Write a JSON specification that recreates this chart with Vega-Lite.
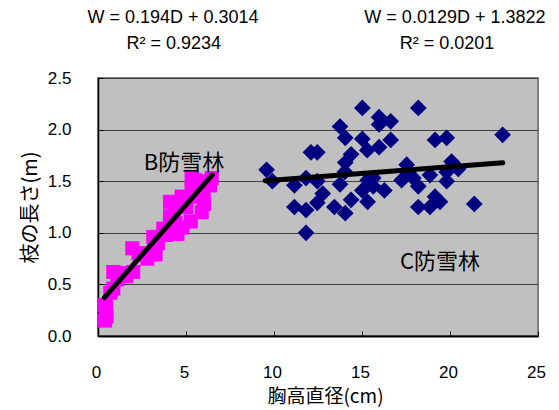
{
  "$schema": "https://vega.github.io/schema/vega-lite/v6.json",
  "width": 440,
  "height": 258,
  "autosize": {"type": "none"},
  "padding": {"left": 98, "top": 78, "right": 21, "bottom": 74},
  "background": "#ffffff",
  "config": {
    "view": {"fill": "#c0c0c0", "stroke": "#808080", "strokeWidth": 2},
    "axis": {"labelFont": "Liberation Sans", "labelColor": "#000", "titleColor": "#000", "titleFont": "Noto Sans CJK JP", "titleFontWeight": "normal"}
  },
  "datasets": {
    "B": [
      {"d": 0.40, "w": 0.15}, {"d": 0.49, "w": 0.19}, {"d": 0.40, "w": 0.30}, {"d": 0.45, "w": 0.28},
      {"d": 0.87, "w": 0.46}, {"d": 0.70, "w": 0.42}, {"d": 0.87, "w": 0.62}, {"d": 1.10, "w": 0.55},
      {"d": 1.35, "w": 0.61}, {"d": 1.60, "w": 0.58}, {"d": 2.00, "w": 0.62}, {"d": 1.95, "w": 0.85},
      {"d": 2.30, "w": 0.80}, {"d": 2.58, "w": 0.80}, {"d": 2.80, "w": 0.75}, {"d": 3.27, "w": 0.79},
      {"d": 3.14, "w": 0.96}, {"d": 3.40, "w": 0.90}, {"d": 3.71, "w": 1.04}, {"d": 3.90, "w": 0.98},
      {"d": 4.51, "w": 0.99}, {"d": 4.09, "w": 1.16}, {"d": 4.40, "w": 1.10}, {"d": 4.80, "w": 1.05},
      {"d": 5.27, "w": 1.11}, {"d": 4.09, "w": 1.30}, {"d": 4.40, "w": 1.25}, {"d": 4.75, "w": 1.35},
      {"d": 5.00, "w": 1.25}, {"d": 5.32, "w": 1.41}, {"d": 5.50, "w": 1.35}, {"d": 6.02, "w": 1.28},
      {"d": 5.89, "w": 1.20}, {"d": 5.51, "w": 1.51}, {"d": 5.32, "w": 1.53}, {"d": 5.80, "w": 1.50},
      {"d": 6.36, "w": 1.46}, {"d": 6.46, "w": 1.53}, {"d": 6.00, "w": 1.40}
    ],
    "C": [
      {"d": 9.58, "w": 1.61}, {"d": 9.91, "w": 1.50}, {"d": 11.16, "w": 1.46}, {"d": 11.16, "w": 1.25},
      {"d": 11.82, "w": 1.22}, {"d": 11.82, "w": 1.00}, {"d": 11.82, "w": 1.53}, {"d": 12.10, "w": 1.78},
      {"d": 12.46, "w": 1.78}, {"d": 12.46, "w": 1.50}, {"d": 12.46, "w": 1.29}, {"d": 12.77, "w": 1.38},
      {"d": 13.43, "w": 1.25}, {"d": 13.75, "w": 2.03}, {"d": 14.05, "w": 1.92}, {"d": 13.75, "w": 1.47},
      {"d": 14.05, "w": 1.19}, {"d": 14.38, "w": 1.32}, {"d": 14.05, "w": 1.68}, {"d": 14.38, "w": 1.76},
      {"d": 14.03, "w": 1.59}, {"d": 15.02, "w": 2.21}, {"d": 15.02, "w": 1.91}, {"d": 15.30, "w": 1.80},
      {"d": 15.02, "w": 1.41}, {"d": 15.32, "w": 1.30}, {"d": 15.32, "w": 1.51}, {"d": 15.64, "w": 1.45},
      {"d": 15.64, "w": 1.53}, {"d": 15.97, "w": 2.12}, {"d": 15.97, "w": 2.05}, {"d": 15.97, "w": 1.83},
      {"d": 16.27, "w": 1.41}, {"d": 16.63, "w": 2.08}, {"d": 16.63, "w": 1.90}, {"d": 18.20, "w": 2.21},
      {"d": 19.15, "w": 1.90}, {"d": 19.81, "w": 1.92}, {"d": 22.99, "w": 1.95}, {"d": 17.54, "w": 1.66},
      {"d": 17.25, "w": 1.51}, {"d": 17.92, "w": 1.53}, {"d": 18.20, "w": 1.45}, {"d": 18.86, "w": 1.56},
      {"d": 17.64, "w": 1.58}, {"d": 20.09, "w": 1.69}, {"d": 20.47, "w": 1.62}, {"d": 19.81, "w": 1.59},
      {"d": 19.81, "w": 1.50}, {"d": 18.20, "w": 1.25}, {"d": 18.86, "w": 1.25}, {"d": 19.15, "w": 1.35},
      {"d": 19.43, "w": 1.30}, {"d": 21.38, "w": 1.28}
    ],
    "fits": [
      {"g": "B", "d": 0.36, "w": 0.371}, {"g": "B", "d": 6.50, "w": 1.562},
      {"g": "C", "d": 9.50, "w": 1.505}, {"g": "C", "d": 23.0, "w": 1.679}
    ],
    "eqs": [
      {"d": 4.26, "w": 3.078, "t": "W = 0.194D + 0.3014"},
      {"d": 4.30, "w": 2.832, "t": "R² = 0.9234"},
      {"d": 20.28, "w": 3.078, "t": "W = 0.0129D + 1.3822"},
      {"d": 19.83, "w": 2.832, "t": "R² = 0.0201"}
    ],
    "labels": [
      {"d": 4.89, "w": 1.676, "t": "B防雪林"},
      {"d": 19.43, "w": 0.72, "t": "C防雪林"}
    ]
  },
  "encoding": {
    "x": {"field": "d", "type": "quantitative",
      "scale": {"domain": [0, 25], "nice": false, "zero": false},
      "axis": {"values": [0, 5, 10, 15, 20, 25], "grid": false, "title": "胸高直径(cm)", "titleFontSize": 19,
        "labelFontSize": 17, "tickSize": -5, "tickColor": "#000", "domainColor": "#000", "domainWidth": 2,
        "labelPadding": 33, "titlePadding": 7, "labelFlush": false, "labelOffset": -2, "titleX": 227}},
    "y": {"field": "w", "type": "quantitative",
      "scale": {"domain": [0, 2.5], "nice": false, "zero": false},
      "axis": {"values": [0, 0.5, 1, 1.5, 2, 2.5], "format": ".1f", "grid": true, "gridColor": "#404040", "gridWidth": 1,
        "title": "枝の長さ(m)", "titleFontSize": 20, "labelFontSize": 17, "tickSize": -5, "tickColor": "#000",
        "domainColor": "#000", "domainWidth": 1.5, "labelPadding": 32, "titlePadding": 7, "labelFlush": false}}
  },
  "layer": [
    {"data": {"name": "C"}, "mark": {"type": "point", "shape": "diamond", "filled": true, "size": 280, "color": "#000080", "opacity": 1}},
    {"data": {"name": "B"}, "mark": {"type": "point", "shape": "square", "filled": true, "size": 200, "color": "#ff00ff", "opacity": 1}},
    {"data": {"name": "fits"}, "mark": {"type": "line", "color": "#000000", "strokeWidth": 5, "strokeCap": "round"},
      "encoding": {"detail": {"field": "g"}}},
    {"data": {"name": "eqs"}, "mark": {"type": "text", "font": "Liberation Sans", "fontSize": 18, "color": "#000", "baseline": "middle", "align": "center"},
      "encoding": {"text": {"field": "t"}}},
    {"data": {"name": "labels"}, "mark": {"type": "text", "font": "Noto Sans CJK JP", "fontSize": 22, "color": "#000", "baseline": "middle", "align": "center"},
      "encoding": {"text": {"field": "t"}}}
  ]
}
